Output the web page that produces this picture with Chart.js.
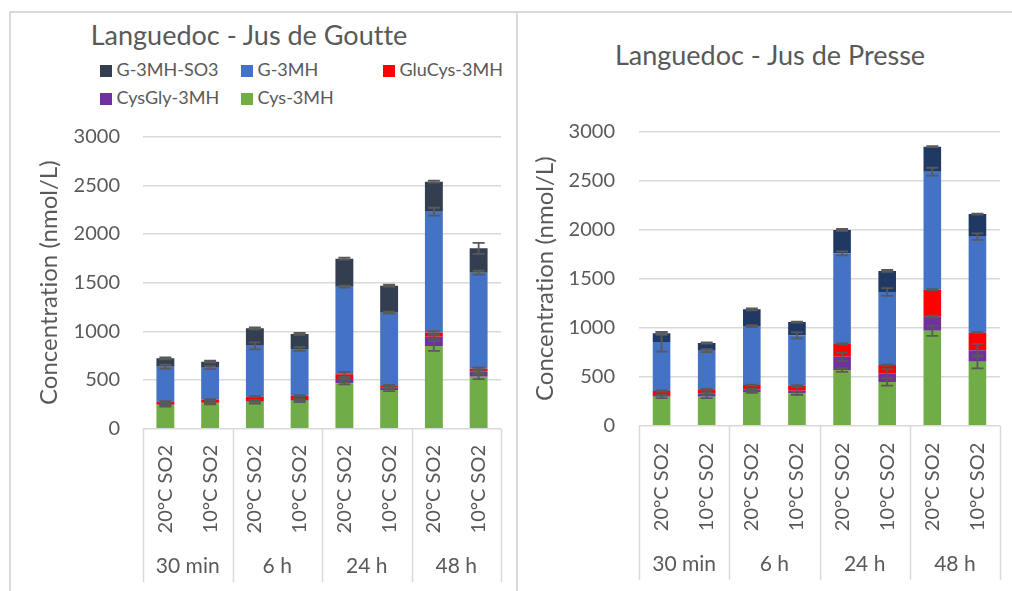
<!DOCTYPE html>
<html>
<head>
<meta charset="utf-8">
<script src="https://cdn.jsdelivr.net/npm/chart.js@4.4.1/dist/chart.umd.min.js"></script>
<style>
  html, body { margin: 0; padding: 0; background: #fff; }
  body { width: 1012px; height: 591px; position: relative; overflow: hidden;
         font-family: Lato, "Open Sans", sans-serif; color: #595959;
         font-variant-ligatures: none; }
  .frame { position: absolute; border: 2px solid #d9d9d9; box-sizing: border-box; }
  .title { position: absolute; white-space: nowrap; transform: translateX(-50%);
           font-size: 27px; line-height: 33px; }
  .sw { position: absolute; width: 12px; height: 12px; }
  .lt { position: absolute; white-space: nowrap; font-size: 18px; line-height: 22px; }
  canvas { position: absolute; }
</style>
</head>
<body>
<div class="frame" style="left:9px; top:11px; width:509px; height:600px;"></div>
<div class="frame" style="left:516px; top:11px; width:520px; height:600px;"></div>

<div class="title" style="left:249px; top:17.5px;">Languedoc - Jus de Goutte</div>
<div class="title" style="left:770px; top:38px;">Languedoc - Jus de Presse</div>
<div id="legend"></div>

<canvas id="goutte" width="506" height="579" style="left:10px; top:12px;"></canvas>
<canvas id="presse" width="495" height="579" style="left:517px; top:12px;"></canvas>

<script>
// Sampling times and storage conditions
const periods = ['30 min', '6 h', '24 h', '48 h'];
const conditions = ['20°C SO2', '10°C SO2', '20°C SO2', '10°C SO2',
                    '20°C SO2', '10°C SO2', '20°C SO2', '10°C SO2'];
const yTicks = [0, 500, 1000, 1500, 2000, 2500, 3000];

// Precursors, stacked from the bottom up
const seriesNames = ['Cys-3MH', 'CysGly-3MH', 'GluCys-3MH', 'G-3MH', 'G-3MH-SO3'];

// Jus de Goutte (nmol/L)
const goutteCys     = [243, 261, 277, 288, 466, 398, 850, 534];
const goutteCysGly  = [5, 5, 8, 8, 45, 27, 95, 56];
const goutteGluCys  = [30, 32, 44, 43, 48, 21, 41, 27];
const goutteG3MH    = [359, 329, 522, 480, 900, 746, 1244, 986];
const goutteG3MHSO3 = [86, 61, 180, 154, 288, 277, 308, 250];
// standard deviations
const goutteCysErr     = [15, 10, 20, 15, 10, 12, 50, 25];
const goutteCysGlyErr  = [5, 5, 8, 8, 10, 10, 20, 15];
const goutteGluCysErr  = [5, 5, 5, 5, 25, 5, 15, 10];
const goutteG3MHErr    = [20, 15, 35, 20, 10, 10, 40, 20];
const goutteG3MHSO3Err = [10, 10, 10, 10, 10, 10, 10, 57];

// Jus de Presse (nmol/L)
const presseCys     = [296, 296, 344, 330, 568, 446, 969, 653];
const presseCysGly  = [17, 34, 27, 27, 136, 85, 143, 116];
const presseGluCys  = [41, 41, 44, 51, 130, 88, 276, 180];
const presseG3MH    = [501, 394, 602, 514, 925, 745, 1204, 980];
const presseG3MHSO3 = [88, 79, 171, 136, 238, 215, 255, 231];
// standard deviations
const presseCysErr     = [15, 15, 10, 15, 18, 38, 52, 68];
const presseCysGlyErr  = [5, 10, 5, 37, 42, 45, 10, 65];
const presseGluCysErr  = [5, 5, 5, 5, 5, 5, 5, 5];
const presseG3MHErr    = [100, 15, 10, 30, 20, 40, 40, 33];
const presseG3MHSO3Err = [15, 5, 10, 5, 10, 10, 5, 5];

const colorsGoutte = ['#70AD47', '#7030A0', '#FF0000', '#4472C4', '#333F50'];
const colorsPresse = ['#70AD47', '#7030A0', '#FF0000', '#4472C4', '#1F3864'];

const TEXT = '#595959';
const GRID = '#d9d9d9';
const FONT = 'Lato, "Open Sans", sans-serif';

// Legend (two rows, three fixed columns), top series first
const legendRows = [[4, 3, 2], [1, 0]];
const legendCols = [100, 241, 383];
const legendTops = [58, 86.3];
const legendEl = document.getElementById('legend');
legendRows.forEach((row, r) => {
  row.forEach((s, c) => {
    const sw = document.createElement('div');
    sw.className = 'sw';
    sw.style.left = legendCols[c] + 'px';
    sw.style.top = (legendTops[r] + 6.5) + 'px';
    sw.style.background = colorsGoutte[s];
    legendEl.appendChild(sw);
    const t = document.createElement('div');
    t.className = 'lt';
    t.style.left = (legendCols[c] + 16.5) + 'px';
    t.style.top = legendTops[r] + 'px';
    t.textContent = seriesNames[s];
    legendEl.appendChild(t);
  });
});

// Error bars at the top of each stacked segment
const errorBars = {
  id: 'errorBars',
  afterDatasetsDraw(chart, args, opts) {
    const { ctx, scales: { y } } = chart;
    const cum = new Array(chart.data.labels.length).fill(0);
    ctx.save();
    ctx.strokeStyle = opts.color;
    ctx.lineWidth = opts.width;
    chart.data.datasets.forEach((ds, d) => {
      const meta = chart.getDatasetMeta(d);
      ds.data.forEach((v, i) => {
        cum[i] += v;
        const e = opts.errors[d][i];
        const x = meta.data[i].x;
        const hi = y.getPixelForValue(cum[i] + e);
        const lo = y.getPixelForValue(cum[i] - e);
        ctx.beginPath();
        ctx.moveTo(x, hi); ctx.lineTo(x, lo);
        ctx.moveTo(x - opts.cap, hi); ctx.lineTo(x + opts.cap, hi);
        ctx.moveTo(x - opts.cap, lo); ctx.lineTo(x + opts.cap, lo);
        ctx.stroke();
      });
    });
    ctx.restore();
  }
};

// Two-level category axis: rotated condition labels, period labels, separators
const groupAxis = {
  id: 'groupAxis',
  afterDraw(chart, args, opts) {
    const { ctx, chartArea, scales: { x } } = chart;
    const n = chart.data.labels.length;
    const per = n / opts.groups.length;
    const step = (chartArea.right - chartArea.left) / n;
    ctx.save();
    ctx.strokeStyle = GRID;
    ctx.lineWidth = 1.5;
    for (let g = 0; g <= opts.groups.length; g++) {
      const xp = Math.round(chartArea.left + g * per * step) + 0.5;
      ctx.beginPath();
      ctx.moveTo(xp, chartArea.bottom);
      ctx.lineTo(xp, opts.sepBottom);
      ctx.stroke();
    }
    ctx.fillStyle = TEXT;
    ctx.font = opts.labelFont;
    chart.data.labels.forEach((lab, i) => {
      const xp = x.getPixelForValue(i);
      ctx.save();
      ctx.translate(xp, chartArea.bottom + opts.labelGap);
      ctx.rotate(-Math.PI / 2);
      ctx.textAlign = 'right';
      ctx.textBaseline = 'middle';
      ctx.fillText(lab, 0, 0);
      ctx.restore();
    });
    ctx.font = opts.groupFont;
    ctx.textAlign = 'center';
    ctx.textBaseline = 'middle';
    opts.groups.forEach((g, k) => {
      const xc = chartArea.left + (k + 0.5) * per * step;
      ctx.fillText(g, xc, opts.groupY);
    });
    ctx.restore();
  }
};

function buildChart(id, series, errors, colors, geo) {
  const datasets = series.map((data, k) => ({
    label: seriesNames[k],
    data: data,
    backgroundColor: colors[k],
    borderWidth: 0,
    barPercentage: geo.barPct,
    categoryPercentage: 1.0
  }));
  return new Chart(document.getElementById(id), {
    type: 'bar',
    data: { labels: conditions, datasets },
    plugins: [errorBars, groupAxis],
    options: {
      responsive: false,
      animation: false,
      devicePixelRatio: 1,
      layout: { padding: { left: 0, top: geo.top, right: geo.right, bottom: 0 } },
      scales: {
        x: {
          stacked: true,
          grid: { display: false },
          border: { display: false },
          ticks: { display: false },
          afterFit(s) { s.height = geo.xHeight; }
        },
        y: {
          stacked: true,
          min: 0,
          max: 3000,
          afterBuildTicks(s) { s.ticks = yTicks.map(v => ({ value: v })); },
          grid: { color: GRID, lineWidth: 1.5, drawTicks: false },
          border: { display: false },
          ticks: {
            color: TEXT,
            font: { family: FONT, size: 20 },
            padding: geo.tickPad,
            callback: v => String(v)
          },
          title: {
            display: true,
            text: 'Concentration (nmol/L)',
            color: TEXT,
            font: { family: FONT, size: 24 },
            padding: { top: geo.titlePad, bottom: 0 }
          },
          afterFit(s) { s.width = geo.yWidth; }
        }
      },
      plugins: {
        legend: { display: false },
        title: { display: false },
        tooltip: { enabled: false },
        errorBars: { errors, color: '#595959', width: 1.8, cap: 6 },
        groupAxis: {
          groups: periods,
          labelFont: '20px ' + FONT,
          groupFont: '21px ' + FONT,
          labelGap: geo.labelGap,
          groupY: geo.groupY,
          sepBottom: geo.sepBottom
        }
      }
    }
  });
}

buildChart('goutte',
  [goutteCys, goutteCysGly, goutteGluCys, goutteG3MH, goutteG3MHSO3],
  [goutteCysErr, goutteCysGlyErr, goutteGluCysErr, goutteG3MHErr, goutteG3MHSO3Err],
  colorsGoutte,
  { top: 124.7, right: 15, xHeight: 162.3, yWidth: 133, tickPad: 23, titlePad: 24.6,
    barPct: 0.4, labelGap: 16.3, groupY: 554.7, sepBottom: 570 });

buildChart('presse',
  [presseCys, presseCysGly, presseGluCys, presseG3MH, presseG3MHSO3],
  [presseCysErr, presseCysGlyErr, presseGluCysErr, presseG3MHErr, presseG3MHSO3Err],
  colorsPresse,
  { top: 119.7, right: 12, xHeight: 165.3, yWidth: 122, tickPad: 24, titlePad: 13.6,
    barPct: 0.39, labelGap: 17, groupY: 552, sepBottom: 568 });
</script>
</body>
</html>
